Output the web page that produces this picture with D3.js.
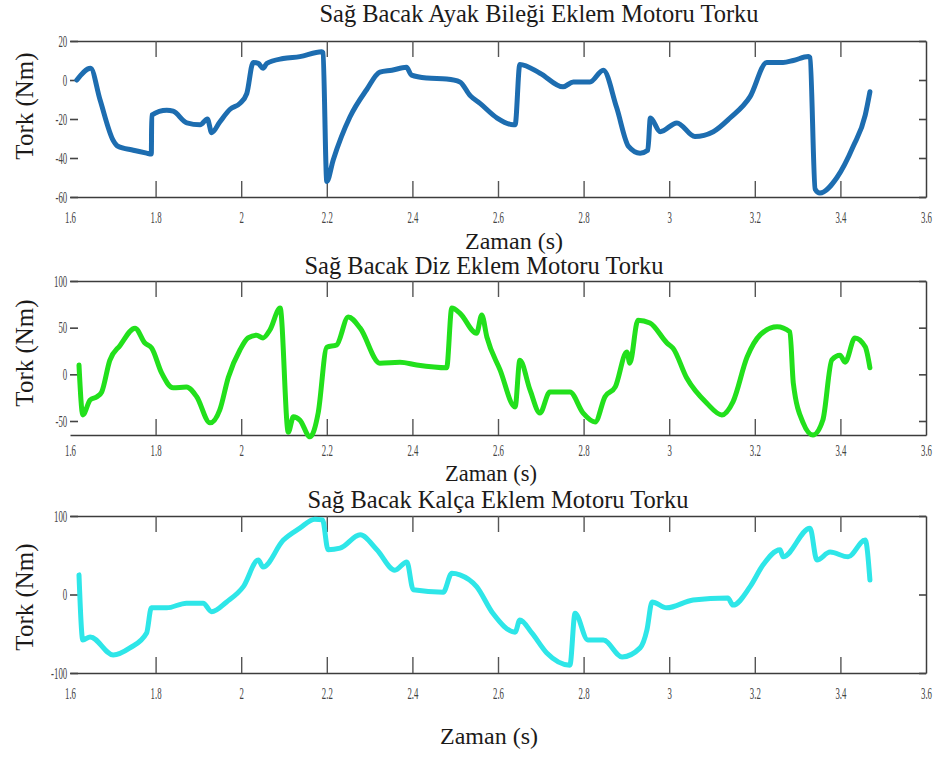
<!DOCTYPE html>
<html>
<head>
<meta charset="utf-8">
<script src="https://cdn.jsdelivr.net/npm/d3@7"></script>
<style>
  body { margin: 0; background: #fff; }
  svg { display: block; }
  text { font-family: "Liberation Serif", "Times New Roman", serif; }
</style>
</head>
<body>
<div id="chart"></div>
<script>
// x ticks shared by all three panels (time, s)
const xTicks = [1.6, 1.8, 2, 2.2, 2.4, 2.6, 2.8, 3, 3.2, 3.4, 3.6];

// ankle (ayak bileği) torque, Nm
const ankleTime = [1.616, 1.648, 1.670, 1.701, 1.712, 1.748, 1.779, 1.790, 1.791, 1.826, 1.841, 1.873, 1.904, 1.921, 1.931, 1.950, 1.974, 1.997, 2.013, 2.028, 2.040, 2.051, 2.060, 2.098, 2.137, 2.188, 2.191, 2.200, 2.215, 2.254, 2.293, 2.324, 2.352, 2.386, 2.398, 2.434, 2.480, 2.511, 2.535, 2.558, 2.598, 2.636, 2.640, 2.651, 2.698, 2.752, 2.776, 2.815, 2.846, 2.877, 2.905, 2.932, 2.950, 2.956, 2.979, 3.018, 3.060, 3.103, 3.142, 3.189, 3.228, 3.266, 3.290, 3.325, 3.329, 3.341, 3.352, 3.392, 3.430, 3.458, 3.469];
const ankleTorque = [0, 6, -10, -31, -34, -36, -37.5, -38, -18, -15.5, -16, -22, -23, -20, -27, -21.5, -15, -12, -7, 9, 8.5, 6, 8.5, 11, 12, 14.5, 14, -52, -41, -19, -5, 4, 5, 6.5, 2.5, 1, 0.5, -1, -8, -12, -19.5, -23, -23, 8, 3.5, -3.5, -1, -1, 5, -14, -34, -37.5, -36, -19.5, -26.5, -22, -29, -26.5, -19.5, -8.5, 9, 9, 10, 12, 11.5, -56, -58, -50, -34, -18, -6];
const ankleYTicks = [-60, -40, -20, 0, 20];

// knee (diz) torque, Nm
const kneeTime = [1.621, 1.630, 1.647, 1.663, 1.674, 1.693, 1.717, 1.752, 1.775, 1.791, 1.814, 1.841, 1.872, 1.896, 1.927, 1.950, 1.970, 1.997, 2.016, 2.036, 2.051, 2.067, 2.091, 2.110, 2.122, 2.137, 2.161, 2.180, 2.200, 2.223, 2.250, 2.278, 2.324, 2.371, 2.410, 2.480, 2.492, 2.511, 2.550, 2.562, 2.574, 2.605, 2.640, 2.651, 2.675, 2.698, 2.721, 2.768, 2.799, 2.827, 2.850, 2.874, 2.901, 2.908, 2.927, 2.955, 2.995, 3.009, 3.041, 3.088, 3.123, 3.149, 3.182, 3.212, 3.252, 3.282, 3.290, 3.313, 3.336, 3.359, 3.380, 3.399, 3.411, 3.434, 3.458, 3.469];
const kneeTorque = [10, -43.5, -27.5, -24, -19, 15, 31, 49.5, 33.5, 28, 1.5, -14.5, -13.5, -24, -52, -38, -3, 26, 39, 42, 39, 47.5, 71, -62, -45.5, -49, -67, -41, 29, 31.5, 61.5, 49.5, 12, 13, 10, 7, 71, 65.5, 44, 63.5, 40, 4.5, -35, 15, -17, -41.5, -19, -19, -41.5, -51, -24, -13.5, 24, 12, 58, 55, 33.5, 28, -4, -31, -43.5, -29.5, 18.5, 42, 51, 45.5, -9.5, -52, -65, -49, 15.5, 20.5, 13, 39, 29.5, 7];
const kneeYTicks = [-50, 0, 50, 100];

// hip (kalça) torque, Nm
const hipTime = [1.621, 1.630, 1.647, 1.701, 1.740, 1.779, 1.790, 1.826, 1.872, 1.911, 1.931, 1.966, 2.005, 2.040, 2.051, 2.098, 2.137, 2.172, 2.190, 2.203, 2.231, 2.278, 2.317, 2.359, 2.387, 2.402, 2.472, 2.492, 2.511, 2.550, 2.588, 2.640, 2.651, 2.679, 2.714, 2.768, 2.780, 2.810, 2.846, 2.890, 2.932, 2.948, 2.960, 2.994, 3.056, 3.137, 3.149, 3.189, 3.219, 3.259, 3.266, 3.329, 3.345, 3.376, 3.418, 3.458, 3.469];
const hipTorque = [25, -58, -54, -77, -68, -49, -17, -17, -11, -11, -22, -9.5, 10, 44, 35, 69, 84.5, 96, 95, 57, 59, 76, 57, 31, 41.5, 6, 3, 27, 25, 10, -24, -48, -32.5, -49, -74.5, -90, -24, -58, -58, -79.5, -68, -45, -9.5, -17, -7, -4.5, -13.5, 10, 37.5, 57, 48, 84.5, 44, 54, 48, 69.5, 18.5];
const hipYTicks = [-100, 0, 100];

const panelTitles = [
    "Sağ Bacak Ayak Bileği Eklem Motoru Torku",
    "Sağ Bacak Diz Eklem Motoru Torku",
    "Sağ Bacak Kalça Eklem Motoru Torku"
];
const xLabel = "Zaman (s)";
const yLabel = "Tork (Nm)";

const width = 936, height = 760;
const marginLeft = 70, marginRight = 10;
const textColor = "#1c1a19";
const axisColor = "#3c3c3c";

const svg = d3.select("#chart").append("svg")
    .attr("width", width)
    .attr("height", height)
    .attr("viewBox", [0, 0, width, height]);

svg.append("rect").attr("width", width).attr("height", height).attr("fill", "#fff");

const x = d3.scaleLinear([1.6, 3.6], [marginLeft, width - marginRight]);
const fmtX = d => String(+d.toFixed(1));

function drawPanel({
    time, torque, yTicks, yDomain,
    top, bottom, color, title, tickPad = 15,
    titleX, titleY, xLabelX, xLabelY, xLabelSize = 24, yLabelY
}) {
    const y = d3.scaleLinear(yDomain, [bottom, top]);
    const g = svg.append("g");

    // bottom axis with labels, ticks pointing inward
    g.append("g")
        .attr("transform", `translate(0,${bottom})`)
        .call(d3.axisBottom(x).tickValues(xTicks).tickSizeInner(-16).tickSizeOuter(0)
            .tickPadding(tickPad).tickFormat(fmtX))
        .call(a => a.select(".domain").attr("stroke", axisColor).attr("stroke-width", 1.5))
        .call(a => a.selectAll(".tick line").attr("stroke", "#555").attr("stroke-width", 1.4)
            .filter(d => d === 1.6 || d === 3.6).remove())
        .call(a => a.selectAll(".tick text")
            .attr("fill", "#444").attr("font-size", 16)
            .attr("transform", "scale(0.55,1)"));

    // top spine with inward ticks
    g.append("g")
        .attr("transform", `translate(0,${top})`)
        .call(d3.axisTop(x).tickValues(xTicks).tickSizeInner(-16).tickSizeOuter(0).tickFormat(""))
        .call(a => a.select(".domain").attr("stroke", axisColor).attr("stroke-width", 1.5))
        .call(a => a.selectAll(".tick line").attr("stroke", "#555").attr("stroke-width", 1.4)
            .filter(d => d === 1.6 || d === 3.6).remove());

    // right spine with inward ticks
    g.append("g")
        .attr("transform", `translate(${width - marginRight},0)`)
        .call(d3.axisRight(y).tickValues(yTicks).tickSizeInner(-7).tickSizeOuter(0).tickFormat(""))
        .call(a => a.select(".domain").attr("stroke", axisColor).attr("stroke-width", 1.5))
        .call(a => a.selectAll(".tick line").attr("stroke", "#444").attr("stroke-width", 1.6));

    // left ticks and labels, no spine
    g.append("g")
        .attr("transform", `translate(${marginLeft},0)`)
        .call(d3.axisLeft(y).tickValues(yTicks).tickSizeInner(-8).tickSizeOuter(0)
            .tickPadding(5).tickFormat(d => String(d)))
        .call(a => a.select(".domain").remove())
        .call(a => a.selectAll(".tick line").attr("stroke", "#444").attr("stroke-width", 1.6))
        .call(a => a.selectAll(".tick text")
            .attr("fill", "#444").attr("font-size", 16)
            .attr("transform", "scale(0.55,1)"));

    // the torque curve
    const line = d3.line()
        .curve(d3.curveMonotoneX)
        .x(i => x(time[i]))
        .y(i => y(torque[i]));

    g.append("path")
        .datum(d3.range(time.length))
        .attr("fill", "none")
        .attr("stroke", color)
        .attr("stroke-width", 5)
        .attr("stroke-linejoin", "round")
        .attr("stroke-linecap", "round")
        .attr("d", line);

    // texts
    g.append("text")
        .attr("x", titleX).attr("y", titleY)
        .attr("text-anchor", "middle")
        .attr("font-size", 24.5)
        .attr("fill", textColor)
        .text(title);

    g.append("text")
        .attr("x", xLabelX).attr("y", xLabelY)
        .attr("text-anchor", "middle")
        .attr("font-size", xLabelSize)
        .attr("fill", textColor)
        .text(xLabel);

    g.append("text")
        .attr("transform", `translate(33,${yLabelY}) rotate(-90)`)
        .attr("text-anchor", "middle")
        .attr("font-size", 25)
        .attr("fill", textColor)
        .text(yLabel);
}

drawPanel({
    time: ankleTime, torque: ankleTorque, yTicks: ankleYTicks, yDomain: [-60, 20],
    top: 41, bottom: 197, color: "#1d6db0", title: panelTitles[0],
    titleX: 539, titleY: 22, xLabelX: 514, xLabelY: 249, yLabelY: 106
});

drawPanel({
    time: kneeTime, torque: kneeTorque, yTicks: kneeYTicks, yDomain: [-65, 100],
    top: 281, bottom: 435, color: "#22e01c", title: panelTitles[1], tickPad: 10,
    titleX: 484, titleY: 274, xLabelX: 491, xLabelY: 481, xLabelSize: 22.5, yLabelY: 353
});

drawPanel({
    time: hipTime, torque: hipTorque, yTicks: hipYTicks, yDomain: [-100, 100],
    top: 516, bottom: 673, color: "#2ee6e8", title: panelTitles[2],
    titleX: 498, titleY: 508, xLabelX: 489, xLabelY: 744, yLabelY: 597
});
</script>
</body>
</html>
